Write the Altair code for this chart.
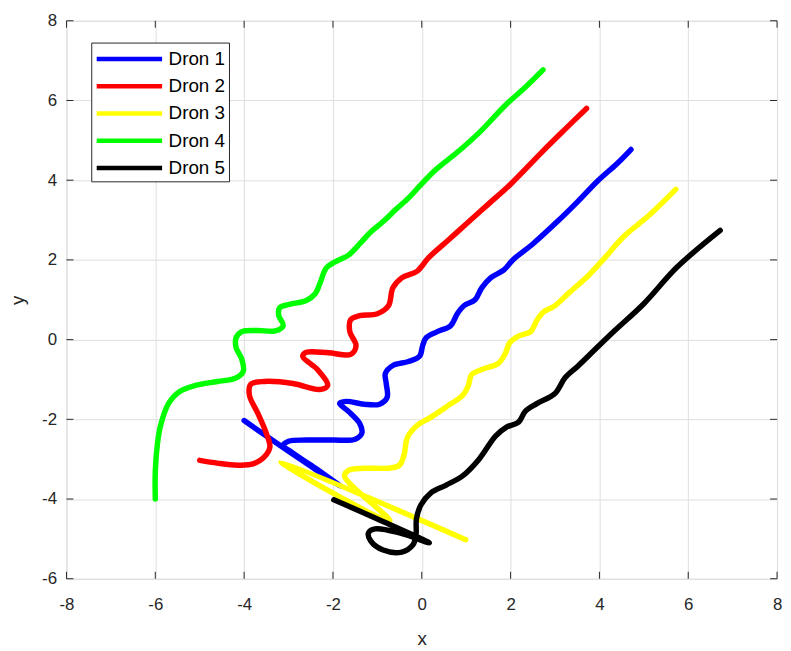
import altair as alt
import pandas as pd

x_ticks = [-8, -6, -4, -2, 0, 2, 4, 6, 8]
y_ticks = [-6, -4, -2, 0, 2, 4, 6, 8]

names = ["Dron 1", "Dron 2", "Dron 3", "Dron 4", "Dron 5"]
colors = ["#0000ff", "#ff0000", "#ffff00", "#00ff00", "#000000"]

d1_x = [-4.0, -3.5, -3.0, -2.4, -1.84, -2.4, -2.9, -3.12, -3.0, -2.6, -2.0, -1.5, -1.35, -1.4, -1.65, -1.85,
        -1.7, -1.3, -0.95, -0.78, -0.8, -0.82, -0.65, -0.3, -0.05, 0.02, 0.1, 0.35, 0.65, 0.8, 0.95, 1.2,
        1.35, 1.55, 1.85, 2.05, 2.5, 3.07, 3.5, 3.96, 4.4, 4.71]
d1_y = [-2.03, -2.42, -2.8, -3.25, -3.67, -3.22, -2.85, -2.65, -2.55, -2.52, -2.52, -2.5, -2.35, -2.1, -1.8, -1.6,
        -1.55, -1.62, -1.62, -1.45, -1.1, -0.85, -0.65, -0.55, -0.42, -0.15, 0.05, 0.2, 0.35, 0.65, 0.85, 1.0,
        1.3, 1.55, 1.75, 2.0, 2.4, 2.98, 3.45, 3.98, 4.42, 4.77]

d2_x = [-5.0, -4.6, -4.14, -3.8, -3.55, -3.42, -3.5, -3.69, -3.88, -3.85, -3.55, -2.9, -2.3, -2.12, -2.35, -2.68,
        -2.6, -2.1, -1.6, -1.48, -1.62, -1.6, -1.4, -1.0, -0.75, -0.65, -0.45, -0.1, 0.15, 0.6, 1.0, 1.5,
        2.0, 2.7, 3.2, 3.71]
d2_y = [-3.03, -3.1, -3.15, -3.12, -2.95, -2.7, -2.35, -1.85, -1.4, -1.12, -1.05, -1.1, -1.25, -1.15, -0.75, -0.42,
        -0.32, -0.33, -0.37, -0.15, 0.2, 0.5, 0.6, 0.65, 0.85, 1.3, 1.55, 1.72, 2.05, 2.5, 2.9, 3.4,
        3.9, 4.7, 5.25, 5.8]

d3_x = [0.99, -3.17, -0.72, -1.74, -1.65, -1.3, -0.7, -0.5, -0.4, -0.32, -0.1, 0.2, 0.6, 0.92, 1.05, 1.12,
        1.35, 1.72, 1.88, 1.98, 2.2, 2.45, 2.6, 2.75, 3.0, 3.3, 3.7, 4.04, 4.56, 5.1, 5.72]
d3_y = [-5.02, -3.07, -4.55, -3.42, -3.28, -3.23, -3.22, -3.15, -2.9, -2.45, -2.15, -1.95, -1.65, -1.4, -1.15, -0.88,
        -0.75, -0.6, -0.35, -0.08, 0.1, 0.2, 0.5, 0.7, 0.85, 1.16, 1.55, 1.95, 2.6, 3.1, 3.77]

d4_x = [-6.0, -6.0, -5.95, -5.88, -5.7, -5.45, -5.1, -4.6, -4.2, -4.02, -4.05, -4.18, -4.18, -4.05, -3.7, -3.3,
        -3.12, -3.22, -3.2, -3.0, -2.6, -2.4, -2.28, -2.15, -1.95, -1.65, -1.4, -1.15, -0.85, -0.6, -0.3,
        -0.05, 0.3, 0.8, 1.3, 1.9, 2.3, 2.73]
d4_y = [-4.0, -3.3, -2.6, -2.15, -1.6, -1.3, -1.15, -1.05, -0.97, -0.8, -0.5, -0.2, 0.05, 0.2, 0.23, 0.22,
        0.35, 0.6, 0.8, 0.88, 0.98, 1.15, 1.45, 1.8, 1.95, 2.12, 2.4, 2.7, 2.98, 3.25, 3.55,
        3.85, 4.25, 4.7, 5.2, 5.9, 6.3, 6.77]

d5_x = [-1.98, -1.0, 0.17, -0.5, -1.05, -1.2, -1.15, -0.87, -0.45, -0.2, -0.13, -0.12, -0.02, 0.2, 0.55, 0.92,
        1.29, 1.66, 1.9, 2.18, 2.33, 2.6, 3.0, 3.23, 3.52, 3.9, 4.34, 5.0, 5.75, 6.72]
d5_y = [-4.02, -4.5, -5.1, -4.85, -4.75, -4.85, -5.05, -5.28, -5.33, -5.15, -4.9, -4.5, -4.15, -3.85, -3.65, -3.42,
        -3.0, -2.42, -2.2, -2.07, -1.8, -1.6, -1.35, -0.95, -0.66, -0.25, 0.22, 0.9, 1.82, 2.74]

series = [(names[0], d1_x, d1_y), (names[1], d2_x, d2_y), (names[2], d3_x, d3_y),
          (names[3], d4_x, d4_y), (names[4], d5_x, d5_y)]
rows = []
for name, xs, ys in series:
    for i, (xv, yv) in enumerate(zip(xs, ys)):
        rows.append({"drone": name, "i": i, "x": xv, "y": yv})
df = pd.DataFrame(rows)

W, H = 717, 563
FONT = "Liberation Sans"
TXT = "#262626"

xscale = alt.Scale(domain=[-8, 8], nice=False, zero=False)
yscale = alt.Scale(domain=[-6, 8], nice=False, zero=False)

lines = alt.Chart(df).mark_line(strokeWidth=5.5, strokeCap="round", strokeJoin="round",
                                interpolate="catmull-rom").encode(
    x=alt.X("x:Q", scale=xscale,
            axis=alt.Axis(values=x_ticks, title="x", grid=True, gridColor="#dfdfdf", ticks=False,
                          domain=False, labelPadding=18, labelFontSize=17, labelFont=FONT,
                          labelColor=TXT, titleFont=FONT, titleFontSize=19, titleFontWeight="normal",
                          titleColor=TXT, titleBaseline="middle", titleY=60, labelFlush=False,
                          labelExpr="'' + datum.value")),
    y=alt.Y("y:Q", scale=yscale,
            axis=alt.Axis(values=y_ticks, title="y", grid=True, gridColor="#dfdfdf", ticks=False,
                          domain=False, labelPadding=10, labelFontSize=17, labelFont=FONT,
                          labelColor=TXT, titleFont=FONT, titleFontSize=19, titleFontWeight="normal",
                          titleColor=TXT, titleAngle=270, titleBaseline="middle", titleX=-49,
                          labelFlush=False, labelExpr="'' + datum.value")),
    color=alt.Color("drone:N", scale=alt.Scale(domain=names, range=colors),
                    legend=alt.Legend(title=None, orient="none", legendX=25, legendY=22,
                                      symbolType="M-1,0H5", symbolSize=484, symbolStrokeWidth=4.5,
                                      labelOffset=48, labelFontSize=19, labelFont=FONT,
                                      labelColor="#000000", rowPadding=3.5, padding=3,
                                      labelExpr="datum.label + '\u00a0\u00a0\u00a0'",
                                      strokeColor="#262626", fillColor="#ffffff")),
    order="i:Q",
)

xt = pd.DataFrame({"x": x_ticks})
yt = pd.DataFrame({"y": y_ticks})
tick_col = "#262626"
xt_bottom = alt.Chart(xt).mark_rule(color=tick_col).encode(
    x=alt.X("x:Q", scale=xscale), y=alt.value(H), y2=alt.value(H - 7))
xt_top = alt.Chart(xt).mark_rule(color=tick_col).encode(
    x=alt.X("x:Q", scale=xscale), y=alt.value(0), y2=alt.value(7))
yt_left = alt.Chart(yt).mark_rule(color=tick_col).encode(
    y=alt.Y("y:Q", scale=yscale), x=alt.value(0), x2=alt.value(7))
yt_right = alt.Chart(yt).mark_rule(color=tick_col).encode(
    y=alt.Y("y:Q", scale=yscale), x=alt.value(W), x2=alt.value(W - 7))

chart = alt.layer(lines, xt_bottom, xt_top, yt_left, yt_right).properties(
    width=W, height=H,
    autosize=alt.AutoSizeParams(type="none"),
    padding={"left": 59, "top": 10, "right": 6, "bottom": 68},
).configure_view(stroke="#262626", strokeWidth=1).configure(background="white")

chart.save("out.html", embed_options={"renderer": "svg", "actions": False})
